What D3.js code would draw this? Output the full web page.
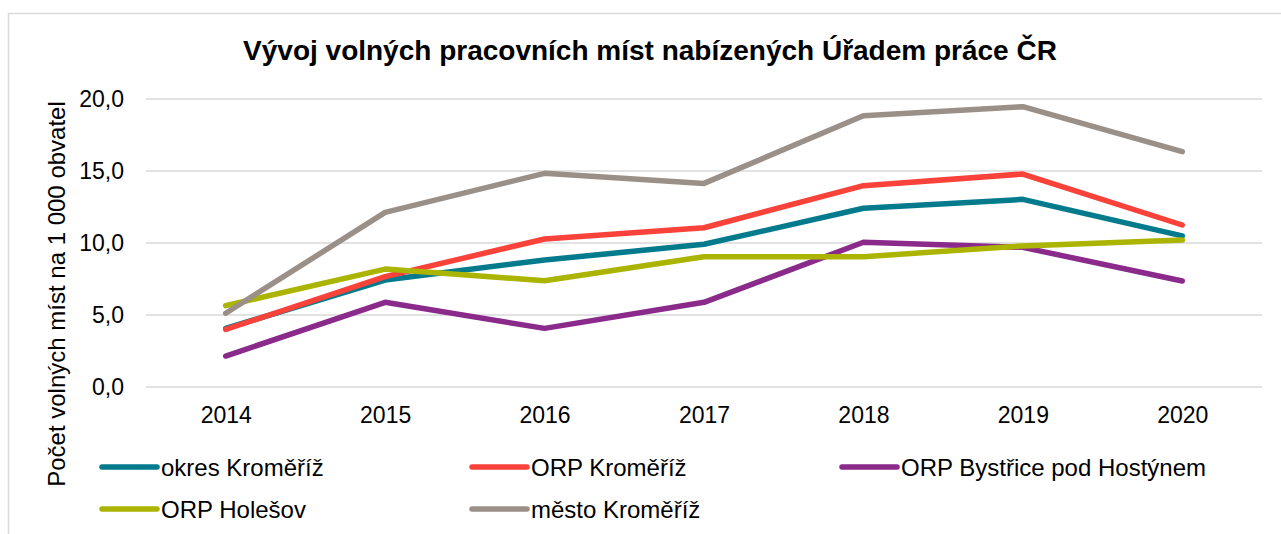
<!DOCTYPE html>
<html>
<head>
<meta charset="utf-8">
<script src="https://cdn.jsdelivr.net/npm/d3@7"></script>
<style>
  body { margin: 0; background: #fff; }
  svg { font-family: "Liberation Sans", Arial, sans-serif; }
</style>
</head>
<body>
<script>
//chart data
var years = ["2014", "2015", "2016", "2017", "2018", "2019", "2020"];
var seriesNames = ["okres Kroměříž", "ORP Kroměříž", "ORP Bystřice pod Hostýnem", "ORP Holešov", "město Kroměříž"];
var okresKromeriz = [4.07, 7.43, 8.82, 9.91, 12.41, 13.03, 10.49];
var orpKromeriz = [4.0, 7.66, 10.28, 11.06, 13.98, 14.79, 11.25];
var orpBystrice = [2.15, 5.88, 4.07, 5.88, 10.05, 9.7, 7.36];
var orpHolesov = [5.65, 8.19, 7.38, 9.05, 9.05, 9.8, 10.21];
var mestoKromeriz = [5.12, 12.13, 14.84, 14.14, 18.84, 19.47, 16.34];
var yTicks = [0, 5, 10, 15, 20];
var colors = ["#037b8c", "#f9423a", "#8a2a8b", "#abb400", "#9b9087"];

(function draw(){
  var width = 1281, height = 534;
  var svg = d3.select("body").append("svg")
    .attr("width", width)
    .attr("height", height);

  //outer chart border
  svg.append("rect")
    .attr("x", 8.5).attr("y", 13.5)
    .attr("width", 1290).attr("height", 540)
    .attr("fill", "none")
    .attr("stroke", "#d9d9d9")
    .attr("stroke-width", 1.5);

  //title
  svg.append("text")
    .attr("x", 650).attr("y", 60)
    .attr("text-anchor", "middle")
    .attr("font-size", "28px")
    .attr("font-weight", "bold")
    .text("Vývoj volných pracovních míst nabízených Úřadem práce ČR");

  var x = d3.scalePoint().domain(years).range([146, 1262]).padding(0.5);
  var y = d3.scaleLinear().domain([0, 20]).range([387, 99]);

  //gridlines
  svg.append("g").selectAll("line")
    .data(yTicks).enter().append("line")
    .attr("x1", 146).attr("x2", 1262)
    .attr("y1", function(d){ return y(d); })
    .attr("y2", function(d){ return y(d); })
    .attr("stroke", "#d9d9d9")
    .attr("stroke-width", 1.4);

  //y axis labels
  var yAxis = svg.append("g")
    .attr("transform", "translate(146,0)")
    .call(d3.axisLeft(y).tickValues(yTicks).tickSize(0).tickPadding(22)
      .tickFormat(function(d){ return d3.format(".1f")(d).replace(".", ","); }));
  yAxis.select(".domain").remove();
  yAxis.selectAll("text").attr("font-size", "23px").attr("fill", "#000")
    .style("font-family", "Liberation Sans, Arial, sans-serif");

  //x axis labels
  var xAxis = svg.append("g")
    .attr("transform", "translate(0,387)")
    .call(d3.axisBottom(x).tickSize(0).tickPadding(20));
  xAxis.select(".domain").remove();
  xAxis.selectAll("text").attr("font-size", "23px").attr("fill", "#000")
    .style("font-family", "Liberation Sans, Arial, sans-serif");

  //y axis title
  svg.append("text")
    .attr("transform", "translate(65,294) rotate(-90)")
    .attr("text-anchor", "middle")
    .attr("font-size", "24px")
    .text("Počet volných míst na 1 000 obvatel");

  //lines
  var allSeries = [okresKromeriz, orpKromeriz, orpBystrice, orpHolesov, mestoKromeriz];
  var line = d3.line()
    .x(function(d, i){ return x(years[i]); })
    .y(function(d){ return y(d); });
  svg.append("g").selectAll("path")
    .data(allSeries).enter().append("path")
    .attr("d", line)
    .attr("fill", "none")
    .attr("stroke", function(d, i){ return colors[i]; })
    .attr("stroke-width", 5.5)
    .attr("stroke-linecap", "round")
    .attr("stroke-linejoin", "round");

  //legend
  var legendPos = [[102, 467], [472, 467], [842, 467], [102, 509], [472, 509]];
  var legend = svg.append("g").selectAll("g")
    .data(seriesNames).enter().append("g")
    .attr("transform", function(d, i){ return "translate(" + legendPos[i][0] + "," + legendPos[i][1] + ")"; });
  legend.append("line")
    .attr("x1", 0).attr("x2", 55)
    .attr("stroke", function(d, i){ return colors[i]; })
    .attr("stroke-width", 5.5)
    .attr("stroke-linecap", "round");
  legend.append("text")
    .attr("x", 59).attr("y", 8.5)
    .attr("font-size", "24px")
    .text(function(d){ return d; });
})();
</script>
</body>
</html>
